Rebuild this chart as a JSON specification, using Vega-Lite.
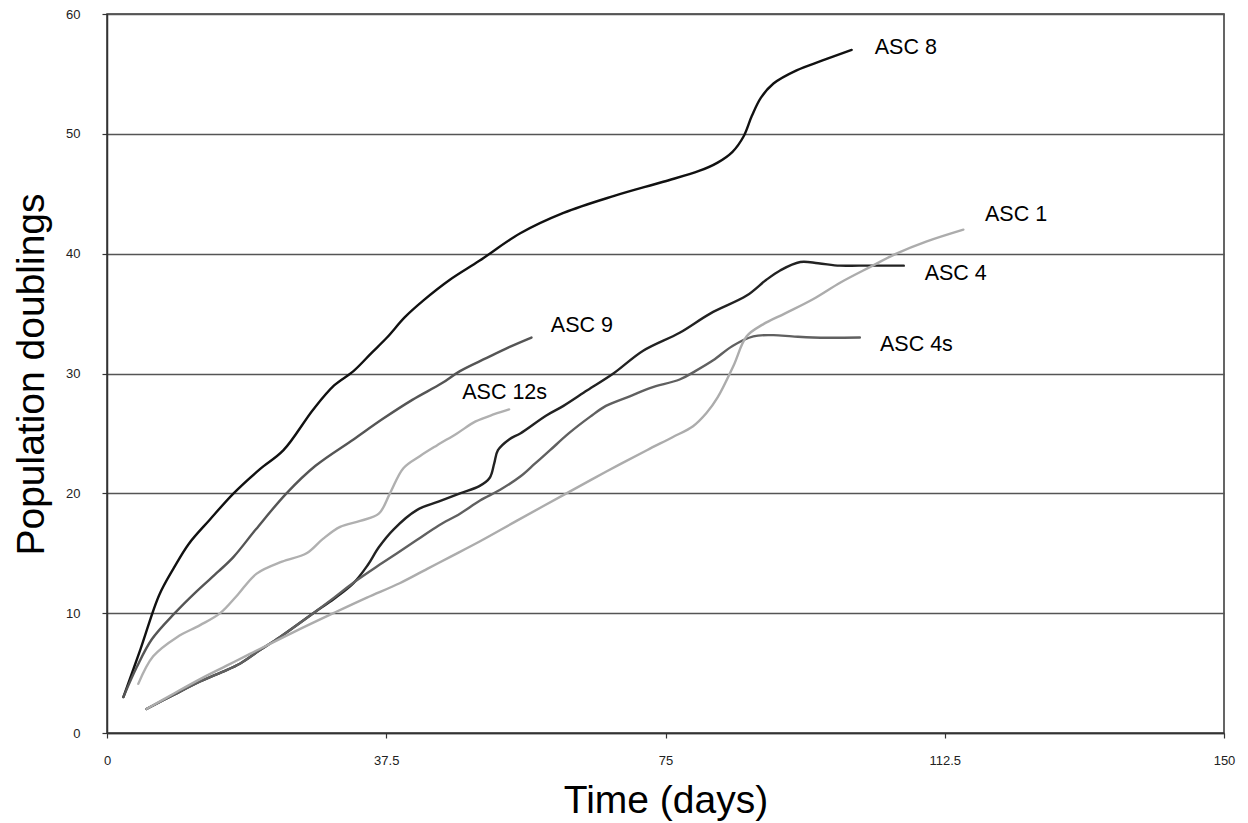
{
  "$schema": "https://vega.github.io/schema/vega-lite/v6.json",
  "width": 1117,
  "height": 719,
  "autosize": {"type": "none"},
  "padding": {"left": 107, "top": 14, "right": 24, "bottom": 90},
  "background": "white",
  "config": {
    "font": "Liberation Sans",
    "view": {"stroke": "#333", "strokeWidth": 1.5}
  },
  "datasets": {
    "series": [
      {"s": "ASC 8", "d": 2.2, "v": 3}, {"s": "ASC 8", "d": 4.5, "v": 7}, {"s": "ASC 8", "d": 7, "v": 11.5}, {"s": "ASC 8", "d": 9, "v": 13.8}, {"s": "ASC 8", "d": 11, "v": 15.8}, {"s": "ASC 8", "d": 13.8, "v": 17.8}, {"s": "ASC 8", "d": 17, "v": 20}, {"s": "ASC 8", "d": 20.5, "v": 22}, {"s": "ASC 8", "d": 23.7, "v": 23.6}, {"s": "ASC 8", "d": 27.7, "v": 27}, {"s": "ASC 8", "d": 30.5, "v": 29}, {"s": "ASC 8", "d": 33.1, "v": 30.2}, {"s": "ASC 8", "d": 35.5, "v": 31.7}, {"s": "ASC 8", "d": 37.6, "v": 33}, {"s": "ASC 8", "d": 40, "v": 34.7}, {"s": "ASC 8", "d": 42.5, "v": 36.1}, {"s": "ASC 8", "d": 46, "v": 37.8}, {"s": "ASC 8", "d": 50, "v": 39.4}, {"s": "ASC 8", "d": 55.5, "v": 41.7}, {"s": "ASC 8", "d": 61.3, "v": 43.4}, {"s": "ASC 8", "d": 68, "v": 44.8}, {"s": "ASC 8", "d": 74.7, "v": 46}, {"s": "ASC 8", "d": 79.5, "v": 46.9}, {"s": "ASC 8", "d": 82, "v": 47.6}, {"s": "ASC 8", "d": 84, "v": 48.5}, {"s": "ASC 8", "d": 85.5, "v": 49.8}, {"s": "ASC 8", "d": 86.6, "v": 51.5}, {"s": "ASC 8", "d": 87.8, "v": 53}, {"s": "ASC 8", "d": 89.5, "v": 54.2}, {"s": "ASC 8", "d": 92.6, "v": 55.3}, {"s": "ASC 8", "d": 96, "v": 56.1}, {"s": "ASC 8", "d": 100, "v": 57},

      {"s": "ASC 9", "d": 2.2, "v": 3}, {"s": "ASC 9", "d": 4, "v": 5.5}, {"s": "ASC 9", "d": 6, "v": 7.8}, {"s": "ASC 9", "d": 9.1, "v": 10}, {"s": "ASC 9", "d": 12, "v": 11.8}, {"s": "ASC 9", "d": 15, "v": 13.5}, {"s": "ASC 9", "d": 17, "v": 14.7}, {"s": "ASC 9", "d": 20, "v": 17}, {"s": "ASC 9", "d": 24.1, "v": 20}, {"s": "ASC 9", "d": 28, "v": 22.3}, {"s": "ASC 9", "d": 33.1, "v": 24.5}, {"s": "ASC 9", "d": 37, "v": 26.2}, {"s": "ASC 9", "d": 41, "v": 27.8}, {"s": "ASC 9", "d": 45, "v": 29.2}, {"s": "ASC 9", "d": 47.4, "v": 30.2}, {"s": "ASC 9", "d": 51, "v": 31.3}, {"s": "ASC 9", "d": 54, "v": 32.2}, {"s": "ASC 9", "d": 57, "v": 33},

      {"s": "ASC 12s", "d": 4.2, "v": 4.1}, {"s": "ASC 12s", "d": 6.2, "v": 6.4}, {"s": "ASC 12s", "d": 9.4, "v": 8}, {"s": "ASC 12s", "d": 12.5, "v": 9}, {"s": "ASC 12s", "d": 15.2, "v": 10}, {"s": "ASC 12s", "d": 17.5, "v": 11.5}, {"s": "ASC 12s", "d": 20.1, "v": 13.3}, {"s": "ASC 12s", "d": 23.5, "v": 14.3}, {"s": "ASC 12s", "d": 26.8, "v": 15}, {"s": "ASC 12s", "d": 29, "v": 16.2}, {"s": "ASC 12s", "d": 31.3, "v": 17.2}, {"s": "ASC 12s", "d": 34, "v": 17.7}, {"s": "ASC 12s", "d": 36.5, "v": 18.3}, {"s": "ASC 12s", "d": 38, "v": 20}, {"s": "ASC 12s", "d": 39.8, "v": 22.1}, {"s": "ASC 12s", "d": 42, "v": 23.1}, {"s": "ASC 12s", "d": 44.3, "v": 24}, {"s": "ASC 12s", "d": 47, "v": 25}, {"s": "ASC 12s", "d": 49.5, "v": 26}, {"s": "ASC 12s", "d": 52, "v": 26.6}, {"s": "ASC 12s", "d": 54, "v": 27},

      {"s": "ASC 4", "d": 5.3, "v": 2}, {"s": "ASC 4", "d": 9, "v": 3.2}, {"s": "ASC 4", "d": 12.5, "v": 4.3}, {"s": "ASC 4", "d": 15.5, "v": 5.1}, {"s": "ASC 4", "d": 17.9, "v": 5.8}, {"s": "ASC 4", "d": 20.5, "v": 6.9}, {"s": "ASC 4", "d": 23.2, "v": 8}, {"s": "ASC 4", "d": 27.7, "v": 10}, {"s": "ASC 4", "d": 30.5, "v": 11.2}, {"s": "ASC 4", "d": 33.1, "v": 12.5}, {"s": "ASC 4", "d": 35, "v": 14}, {"s": "ASC 4", "d": 36.5, "v": 15.5}, {"s": "ASC 4", "d": 38.5, "v": 17}, {"s": "ASC 4", "d": 41.6, "v": 18.6}, {"s": "ASC 4", "d": 44.5, "v": 19.3}, {"s": "ASC 4", "d": 47.4, "v": 20}, {"s": "ASC 4", "d": 50, "v": 20.6}, {"s": "ASC 4", "d": 51.4, "v": 21.3}, {"s": "ASC 4", "d": 52, "v": 22.5}, {"s": "ASC 4", "d": 52.5, "v": 23.6}, {"s": "ASC 4", "d": 54, "v": 24.5}, {"s": "ASC 4", "d": 55.5, "v": 25}, {"s": "ASC 4", "d": 59, "v": 26.5}, {"s": "ASC 4", "d": 61.3, "v": 27.3}, {"s": "ASC 4", "d": 64.5, "v": 28.6}, {"s": "ASC 4", "d": 68, "v": 30}, {"s": "ASC 4", "d": 72, "v": 31.9}, {"s": "ASC 4", "d": 76.9, "v": 33.4}, {"s": "ASC 4", "d": 81, "v": 35}, {"s": "ASC 4", "d": 85.9, "v": 36.5}, {"s": "ASC 4", "d": 88.5, "v": 37.8}, {"s": "ASC 4", "d": 90.4, "v": 38.6}, {"s": "ASC 4", "d": 93.1, "v": 39.3}, {"s": "ASC 4", "d": 95.5, "v": 39.2}, {"s": "ASC 4", "d": 98.4, "v": 39}, {"s": "ASC 4", "d": 101, "v": 39}, {"s": "ASC 4", "d": 107, "v": 39},

      {"s": "ASC 4s", "d": 5.3, "v": 2}, {"s": "ASC 4s", "d": 9, "v": 3.2}, {"s": "ASC 4s", "d": 12.5, "v": 4.3}, {"s": "ASC 4s", "d": 15.5, "v": 5.1}, {"s": "ASC 4s", "d": 17.9, "v": 5.8}, {"s": "ASC 4s", "d": 20.5, "v": 6.9}, {"s": "ASC 4s", "d": 23.2, "v": 8}, {"s": "ASC 4s", "d": 27.7, "v": 10}, {"s": "ASC 4s", "d": 30.5, "v": 11.3}, {"s": "ASC 4s", "d": 33, "v": 12.5}, {"s": "ASC 4s", "d": 37, "v": 14.2}, {"s": "ASC 4s", "d": 41.6, "v": 16.1}, {"s": "ASC 4s", "d": 44.5, "v": 17.3}, {"s": "ASC 4s", "d": 47.4, "v": 18.3}, {"s": "ASC 4s", "d": 50.1, "v": 19.4}, {"s": "ASC 4s", "d": 52.8, "v": 20.3}, {"s": "ASC 4s", "d": 55.5, "v": 21.4}, {"s": "ASC 4s", "d": 57.5, "v": 22.5}, {"s": "ASC 4s", "d": 59.5, "v": 23.6}, {"s": "ASC 4s", "d": 62, "v": 25}, {"s": "ASC 4s", "d": 64.9, "v": 26.4}, {"s": "ASC 4s", "d": 67, "v": 27.3}, {"s": "ASC 4s", "d": 70.2, "v": 28.1}, {"s": "ASC 4s", "d": 73, "v": 28.8}, {"s": "ASC 4s", "d": 76.9, "v": 29.5}, {"s": "ASC 4s", "d": 79, "v": 30.2}, {"s": "ASC 4s", "d": 81.4, "v": 31.1}, {"s": "ASC 4s", "d": 84, "v": 32.3}, {"s": "ASC 4s", "d": 86.8, "v": 33.1}, {"s": "ASC 4s", "d": 89.5, "v": 33.2}, {"s": "ASC 4s", "d": 92, "v": 33.1}, {"s": "ASC 4s", "d": 94.8, "v": 33}, {"s": "ASC 4s", "d": 101.1, "v": 33},

      {"s": "ASC 1", "d": 5.3, "v": 2}, {"s": "ASC 1", "d": 9, "v": 3.3}, {"s": "ASC 1", "d": 12.5, "v": 4.5}, {"s": "ASC 1", "d": 16, "v": 5.6}, {"s": "ASC 1", "d": 19.2, "v": 6.6}, {"s": "ASC 1", "d": 25, "v": 8.4}, {"s": "ASC 1", "d": 30.4, "v": 10}, {"s": "ASC 1", "d": 34.9, "v": 11.3}, {"s": "ASC 1", "d": 39.3, "v": 12.5}, {"s": "ASC 1", "d": 43, "v": 13.7}, {"s": "ASC 1", "d": 46.1, "v": 14.7}, {"s": "ASC 1", "d": 50.1, "v": 16}, {"s": "ASC 1", "d": 55, "v": 17.7}, {"s": "ASC 1", "d": 61.7, "v": 20}, {"s": "ASC 1", "d": 67, "v": 21.8}, {"s": "ASC 1", "d": 72.5, "v": 23.6}, {"s": "ASC 1", "d": 76, "v": 24.7}, {"s": "ASC 1", "d": 78.7, "v": 25.6}, {"s": "ASC 1", "d": 80.5, "v": 26.7}, {"s": "ASC 1", "d": 82, "v": 28}, {"s": "ASC 1", "d": 84.1, "v": 30.6}, {"s": "ASC 1", "d": 85.9, "v": 33.1}, {"s": "ASC 1", "d": 88.1, "v": 34.1}, {"s": "ASC 1", "d": 91, "v": 35}, {"s": "ASC 1", "d": 94.8, "v": 36.2}, {"s": "ASC 1", "d": 98.5, "v": 37.6}, {"s": "ASC 1", "d": 102.5, "v": 38.9}, {"s": "ASC 1", "d": 106, "v": 40}, {"s": "ASC 1", "d": 110, "v": 41}, {"s": "ASC 1", "d": 115, "v": 42}
    ],
    "labels": [
      {"label": "ASC 8", "d": 103.1, "v": 57.2},
      {"label": "ASC 9", "d": 59.6, "v": 34.0},
      {"label": "ASC 12s", "d": 47.7, "v": 28.4},
      {"label": "ASC 1", "d": 117.9, "v": 43.2},
      {"label": "ASC 4", "d": 109.8, "v": 38.3},
      {"label": "ASC 4s", "d": 103.8, "v": 32.4}
    ]
  },
  "layer": [
    {
      "data": {"name": "series"},
      "mark": {"type": "line", "interpolate": "catmull-rom", "strokeWidth": 2.4, "strokeCap": "round"},
      "encoding": {
        "x": {
          "field": "d", "type": "quantitative",
          "scale": {"domain": [0, 150], "nice": false, "zero": false},
          "axis": {
            "title": "Time (days)",
            "values": [0, 37.5, 75, 112.5, 150],
            "format": ".1~f",
            "labelFlush": false,
            "grid": false,
            "domainColor": "#333", "domainWidth": 1.5,
            "tickColor": "#333", "tickSize": 5, "tickWidth": 1.2,
            "labelFontSize": 13, "labelColor": "#222", "labelPadding": 16,
            "titleFontSize": 39, "titleFontWeight": "normal", "titleColor": "#000",
            "titleBaseline": "middle", "titleY": 67
          }
        },
        "y": {
          "field": "v", "type": "quantitative",
          "scale": {"domain": [0, 60], "nice": false},
          "axis": {
            "title": "Population doublings",
            "values": [0, 10, 20, 30, 40, 50, 60],
            "labelFlush": false,
            "grid": true, "gridColor": "#555", "gridWidth": 1.5, "gridOpacity": 1,
            "domainColor": "#333", "domainWidth": 1.5,
            "tickColor": "#333", "tickSize": 5, "tickWidth": 1.2,
            "labelFontSize": 13, "labelColor": "#222", "labelPadding": 22,
            "titleFontSize": 39, "titleFontWeight": "normal", "titleColor": "#000",
            "titleBaseline": "middle", "titleAlign": "center", "titleX": -76, "titleY": 360
          }
        },
        "detail": {"field": "s"},
        "color": {
          "field": "s", "type": "nominal", "legend": null,
          "scale": {
            "domain": ["ASC 8", "ASC 9", "ASC 12s", "ASC 4", "ASC 4s", "ASC 1"],
            "range": ["#111111", "#555555", "#b0b0b0", "#222222", "#606060", "#acacac"]
          }
        }
      }
    },
    {
      "data": {"name": "labels"},
      "mark": {"type": "text", "align": "left", "baseline": "middle", "fontSize": 21.5, "color": "#000"},
      "encoding": {
        "x": {"field": "d", "type": "quantitative"},
        "y": {"field": "v", "type": "quantitative"},
        "text": {"field": "label"}
      }
    }
  ]
}
